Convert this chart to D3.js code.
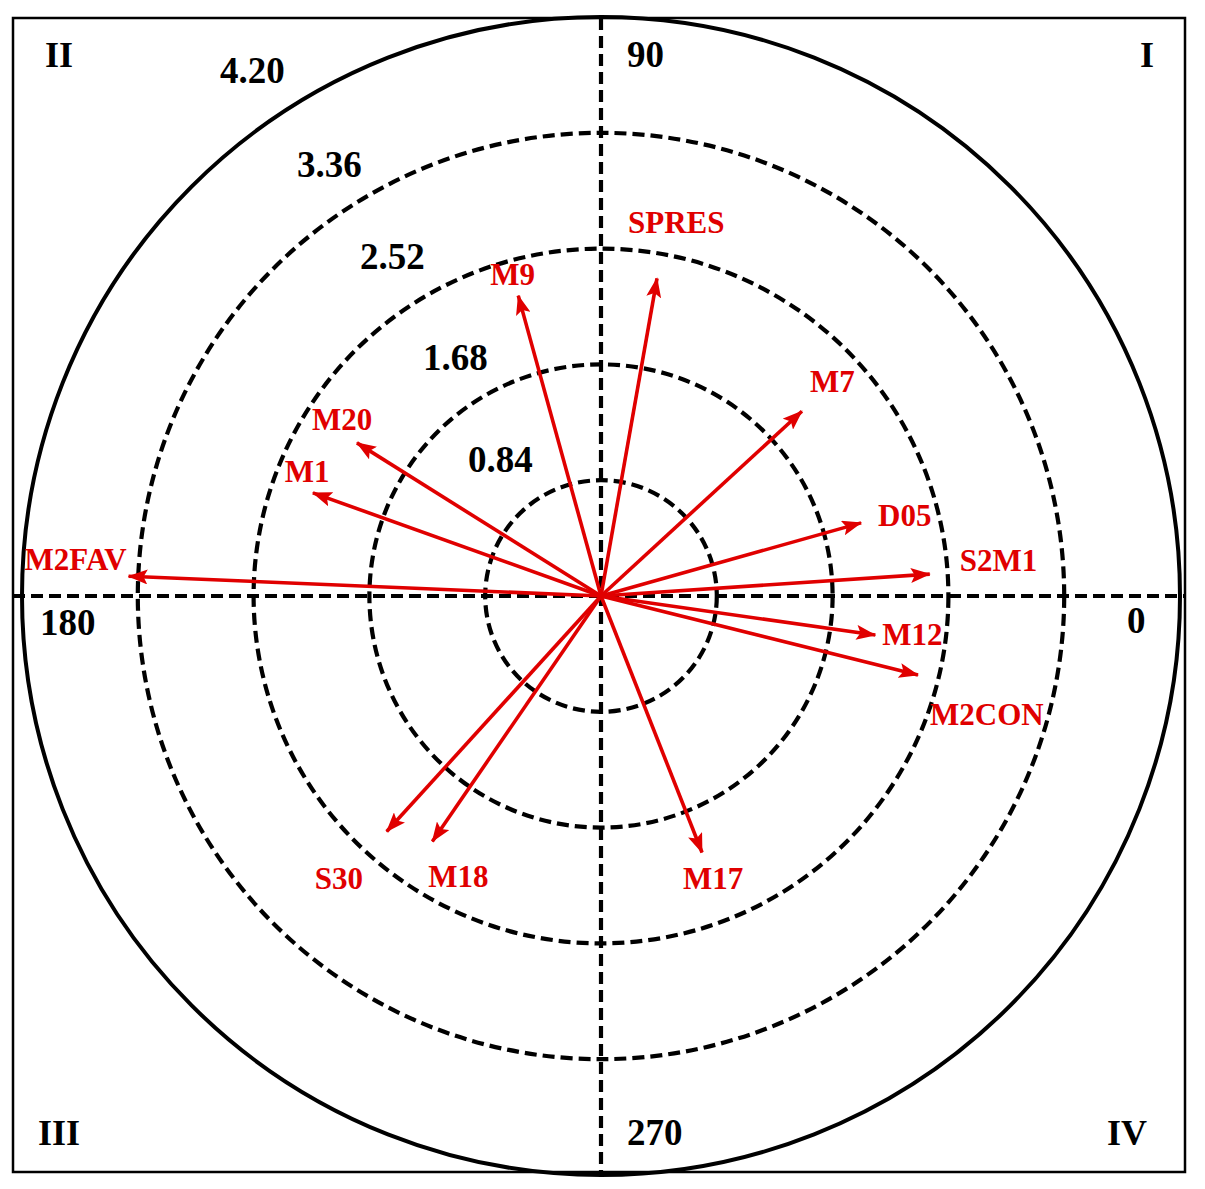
<!DOCTYPE html>
<html>
<head>
<meta charset="utf-8">
<script src="https://cdn.jsdelivr.net/npm/d3@7"></script>
<style>
  body { margin: 0; background: #fff; }
  text { font-family: "Liberation Serif", "Times New Roman", serif; font-weight: bold; }
</style>
</head>
<body>
<div id="chart"></div>
<script>
// vectors: name, angle (deg, counter-clockwise from 0), length
const names   = ["M2FAV", "M1", "M20", "M9", "SPRES", "M7", "D05", "S2M1", "M12", "M2CON", "M17", "M18", "S30"];
const angles  = [177.6, 160.3, 147.9, 105.4, 80.0, 42.6, 15.7, 3.8, 351.9, 346.0, 291.5, 235.5, 227.7];
const lengths = [3.43, 2.22, 2.09, 2.26, 2.34, 1.98, 1.96, 2.39, 2.01, 2.37, 2.00, 2.16, 2.31];

const ringValues = [0.84, 1.68, 2.52, 3.36, 4.20];
const ringLabels = ["0.84", "1.68", "2.52", "3.36", "4.20"];
const angleLabels = ["0", "90", "180", "270"];
const quadrants = ["I", "II", "III", "IV"];

// label offsets from arrow tip (layout only)
const labelOffset = {
  M2FAV: [-104, -6], M1: [-28, -11], M20: [-45, -13], M9: [-28, -11],
  SPRES: [-29, -45], M7: [8, -19], D05: [17, 3], S2M1: [30, -3],
  M12: [7, 10], M2CON: [12, 50], M17: [-19, 36], M18: [-4, 46], S30: [-72, 57]
};

const width = 1205, height = 1189;
const cx = 601, cy = 596;
const red = "#e00000";

const svg = d3.select("#chart").append("svg")
  .attr("width", width)
  .attr("height", height);

svg.append("rect").attr("width", width).attr("height", height).attr("fill", "#fff");

const r = d3.scaleLinear().domain([0, 4.20]).range([0, 579]);
const rad = d => d * Math.PI / 180;

// frame
svg.append("rect")
  .attr("x", 13).attr("y", 18)
  .attr("width", 1172).attr("height", 1154)
  .attr("fill", "none").attr("stroke", "#000").attr("stroke-width", 2.5);

// rings
svg.selectAll("circle.ring")
  .data(ringValues)
  .enter()
  .append("circle")
  .attr("class", "ring")
  .attr("cx", cx).attr("cy", cy)
  .attr("r", d => r(d))
  .attr("fill", "none")
  .attr("stroke", "#000")
  .attr("stroke-width", (d, i) => i === ringValues.length - 1 ? 4 : 4.2)
  .attr("stroke-dasharray", (d, i) => i === ringValues.length - 1 ? null : "12,6");

// axes
svg.append("line")
  .attr("x1", 13).attr("x2", 1185).attr("y1", cy).attr("y2", cy)
  .attr("stroke", "#000").attr("stroke-width", 4.2).attr("stroke-dasharray", "12,6");
svg.append("line")
  .attr("x1", cx).attr("x2", cx).attr("y1", 18).attr("y2", 1172)
  .attr("stroke", "#000").attr("stroke-width", 4.2).attr("stroke-dasharray", "12,6");

// ring labels
const ringLabelPos = [[468, 472], [423, 370], [360, 269], [297, 177], [220, 83]];
svg.selectAll("text.ringlab")
  .data(ringLabels)
  .enter()
  .append("text")
  .attr("class", "ringlab")
  .attr("x", (d, i) => ringLabelPos[i][0])
  .attr("y", (d, i) => ringLabelPos[i][1])
  .attr("font-size", 37)
  .text(d => d);

// angle labels
const angleLabelPos = [[1127, 633], [627, 67], [40, 635], [627, 1145]];
svg.selectAll("text.anglab")
  .data(angleLabels)
  .enter()
  .append("text")
  .attr("class", "anglab")
  .attr("x", (d, i) => angleLabelPos[i][0])
  .attr("y", (d, i) => angleLabelPos[i][1])
  .attr("font-size", 37)
  .text(d => d);

// quadrant labels
const quadPos = [[1140, 67], [45, 67], [38, 1145], [1107, 1145]];
svg.selectAll("text.quad")
  .data(quadrants)
  .enter()
  .append("text")
  .attr("class", "quad")
  .attr("x", (d, i) => quadPos[i][0])
  .attr("y", (d, i) => quadPos[i][1])
  .attr("font-size", 36)
  .text(d => d);

// arrow marker
svg.append("defs").append("marker")
  .attr("id", "head")
  .attr("markerUnits", "userSpaceOnUse")
  .attr("viewBox", "0 0 20 15")
  .attr("refX", 19).attr("refY", 7.5)
  .attr("markerWidth", 20).attr("markerHeight", 15)
  .attr("orient", "auto")
  .append("path")
  .attr("d", "M0,0 L20,7.5 L0,15 L4,7.5 Z")
  .attr("fill", red);

const vectors = names.map((n, i) => ({ name: n, angle: angles[i], len: lengths[i] }));
const tipX = d => cx + r(d.len) * Math.cos(rad(d.angle));
const tipY = d => cy - r(d.len) * Math.sin(rad(d.angle));

svg.selectAll("line.vec")
  .data(vectors)
  .enter()
  .append("line")
  .attr("class", "vec")
  .attr("x1", cx).attr("y1", cy)
  .attr("x2", tipX).attr("y2", tipY)
  .attr("stroke", red)
  .attr("stroke-width", 3.6)
  .attr("marker-end", "url(#head)");

svg.selectAll("text.veclab")
  .data(vectors)
  .enter()
  .append("text")
  .attr("class", "veclab")
  .attr("x", d => tipX(d) + labelOffset[d.name][0])
  .attr("y", d => tipY(d) + labelOffset[d.name][1])
  .attr("font-size", 31)
  .attr("fill", red)
  .text(d => d.name);
</script>
</body>
</html>
